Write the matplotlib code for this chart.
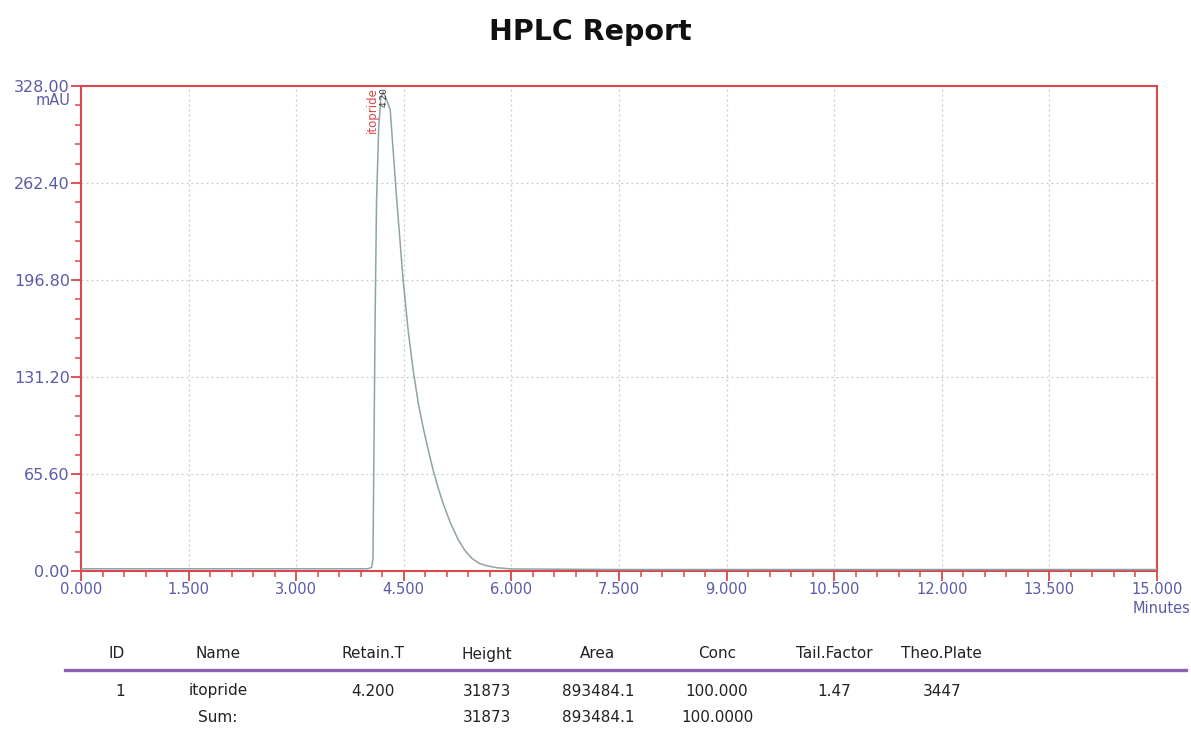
import matplotlib
matplotlib.use("Agg")
import matplotlib.pyplot as plt
from matplotlib.ticker import MultipleLocator

plt.rcParams['font.family'] = ['DejaVu Sans']

# Chromatogram trace (minutes, mAU)
time_min = [0.0, 3.0, 4.00, 4.05, 4.07, 4.08, 4.10, 4.12, 4.15, 4.18, 4.21, 4.25,
            4.31, 4.40, 4.49, 4.56, 4.63, 4.70, 4.77, 4.84, 4.91, 4.98, 5.05,
            5.15, 5.26, 5.35, 5.45, 5.55, 5.66, 5.80, 6.00, 7.5, 15.0]
signal_mau = [1.5, 1.5, 1.5, 2.5, 8.0, 60.0, 170.0, 250.0, 300.0, 320.0, 324.0, 320.0,
              312.0, 252.0, 197.0, 163.0, 136.0, 114.0, 97.0, 82.0, 68.0, 56.0, 45.5,
              32.5, 21.0, 14.0, 8.5, 5.2, 3.5, 2.2, 1.4, 1.0, 1.0]

x_ticks = [0.0, 1.5, 3.0, 4.5, 6.0, 7.5, 9.0, 10.5, 12.0, 13.5, 15.0]
x_labels = ["0.000", "1.500", "3.000", "4.500", "6.000", "7.500", "9.000",
            "10.500", "12.000", "13.500", "15.000"]
y_ticks = [0.0, 65.6, 131.2, 196.8, 262.4, 328.0]
y_labels = ["0.00", "65.60", "131.20", "196.80", "262.40", "328.00"]

peak_name = "itopride"
peak_rt = 4.20
peak_label_rt = "4.20"

table_headers = ["ID", "Name", "Retain.T", "Height", "Area", "Conc", "Tail.Factor", "Theo.Plate"]
table_row1 = ["1", "itopride", "4.200", "31873", "893484.1", "100.000", "1.47", "3447"]
table_sum = ["", "Sum:", "", "31873", "893484.1", "100.0000", "", ""]

RED = "#d9484a"
BLUE = "#5a5aa8"
TRACE = "#8fa3a6"
TXT = "#222222"

fig = plt.figure(figsize=(11.91, 7.30), dpi=100)
fig.patch.set_facecolor("white")
ax = fig.add_axes([81/1191, 1 - 571/730, (1157-81)/1191, (571-86)/730])

ax.plot(time_min, signal_mau, color=TRACE, lw=1.1, zorder=3)

ax.set_xlim(0, 15)
ax.set_ylim(0, 328)
ax.set_xticks(x_ticks)
ax.set_xticklabels(x_labels)
ax.set_yticks(y_ticks)
ax.set_yticklabels(y_labels)
ax.xaxis.set_minor_locator(MultipleLocator(0.3))
ax.yaxis.set_minor_locator(MultipleLocator(13.12))

for s in ax.spines.values():
    s.set_color(RED)
    s.set_linewidth(1.5)

ax.tick_params(axis="both", which="major", direction="out", length=7, width=1.3,
               colors=RED, labelcolor=BLUE, pad=1)
ax.tick_params(axis="x", which="major", labelsize=10.5)
ax.tick_params(axis="y", which="major", labelsize=11.5)
ax.tick_params(axis="both", which="minor", direction="out", length=4, width=1.1,
               colors=RED)
ax.grid(True, which="major", color="#c8c8c8", linestyle=(0, (1.5, 2.5)), lw=0.9)

# axis unit labels
ax.text(-0.010, 0.985, "mAU", transform=ax.transAxes, ha="right", va="top",
        color=BLUE, fontsize=10.5)
ax.text(1.004, -0.062, "Minutes", transform=ax.transAxes, ha="center", va="top",
        color=BLUE, fontsize=10.5)

# peak annotations
ax.text(peak_rt - 0.14, 327, peak_name, rotation=90, ha="center", va="top",
        color=RED, fontsize=8.5)
ax.text(peak_rt + 0.03, 327, peak_label_rt, rotation=90, ha="center", va="top",
        color="#333333", fontsize=6.5)

fig.text(590/1191, 1 - 32/730, "HPLC Report", ha="center", va="center",
         fontsize=20.5, fontweight="bold", color="#111111")

# results table
col_x = [117, 218, 373, 487, 598, 717, 834, 941]
for x, h in zip(col_x, table_headers):
    fig.text(x/1191, 1 - 654/730, h, ha="center", va="center", fontsize=11, color=TXT)
fig.add_artist(plt.Line2D([65/1191, 1186/1191], [1 - 670/730, 1 - 670/730],
                          color="#8a60b0", lw=2.4, transform=fig.transFigure))
row1_x = [120, 218, 373, 487, 598, 717, 834, 942]
for x, v in zip(row1_x, table_row1):
    fig.text(x/1191, 1 - 691/730, v, ha="center", va="center", fontsize=11, color=TXT)
for x, v in zip(row1_x, table_sum):
    if v:
        fig.text(x/1191, 1 - 717/730, v, ha="center", va="center", fontsize=11, color=TXT)

fig.savefig("out.png", dpi=100, facecolor="white")
